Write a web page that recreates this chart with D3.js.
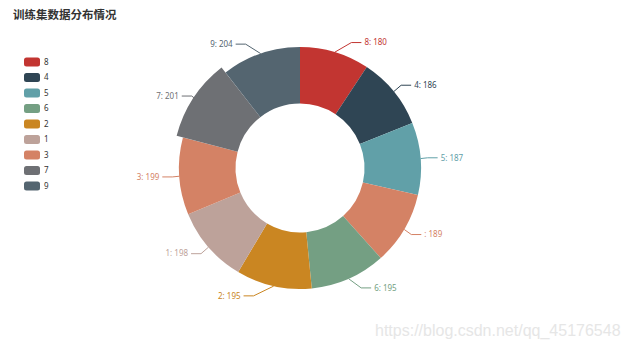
<!DOCTYPE html>
<html lang="zh">
<head>
    <meta charset="UTF-8">
    <title>训练集数据分布情况</title>
    <script src="https://d3js.org/d3.v7.min.js"></script>
    <style>
        body { margin: 0; background: #fff; }
        svg { display: block; font-family: "Noto Sans", "Noto Sans CJK SC", sans-serif; }
    </style>
</head>
<body>
    <div id="chart"></div>
    <script>
        // data, in pie order (clockwise from 12 o'clock)
        const names = ['8', '4', '5', '', '6', '2', '1', '3', '7', '9'];
        const values = [180, 186, 187, 189, 195, 195, 198, 199, 201, 204];
        const colors = ['#c23531', '#2f4554', '#61a0a8', '#d48265', '#749f83',
                        '#ca8622', '#bda29a', '#d48265', '#6e7074', '#546570'];
        // legend skips the unnamed item
        const legendNames = ['8', '4', '5', '6', '2', '1', '3', '7', '9'];
        const highlighted = '7';

        const width = 627, height = 348;
        const cx = 300, cy = 168;
        const rInner = 64.5, rOuter = 121, hoverOffset = 6.5;
        const len = 10, len2 = 10;

        const svg = d3.select('#chart').append('svg')
            .attr('width', width)
            .attr('height', height);

        // title
        svg.append('text')
            .attr('x', 13)
            .attr('y', 19)
            .attr('font-family', '"Noto Sans CJK SC", sans-serif')
            .attr('font-size', 11.5)
            .attr('font-weight', 'bold')
            .attr('fill', '#333')
            .text('训练集数据分布情况');

        const data = names.map((n, i) => ({ name: n, value: values[i], color: colors[i] }));

        const pie = d3.pie().sort(null).value(d => d.value);
        const arcs = pie(data);

        const g = svg.append('g').attr('transform', `translate(${cx},${cy})`);

        // label lines + labels (ECharts-like outer layout)
        const R = rOuter;
        arcs.forEach(a => {
            const mid = (a.startAngle + a.endAngle) / 2;
            const s = Math.sin(mid), c = Math.cos(mid);
            const dir = s < 0 ? -1 : 1;
            const ly = -(R + len) * c;
            const dx = Math.sqrt(Math.pow(R + len + len2, 2) - ly * ly);
            const tx = dx * dir;
            const lineEnd = tx - 3 * dir;
            const elbow = lineEnd - len2 * dir;
            a.label = { x: tx, y: ly, dir: dir };
            a.line = [[R * s, -R * c], [elbow, ly], [lineEnd, ly]];
        });

        g.selectAll('path.line')
            .data(arcs)
            .enter().append('path')
            .attr('class', 'line')
            .attr('d', d => d3.line()(d.line))
            .attr('fill', 'none')
            .attr('stroke', d => d.data.color)
            .attr('stroke-width', 1);

        const arc = d3.arc().innerRadius(rInner);
        g.selectAll('path.slice')
            .data(arcs)
            .enter().append('path')
            .attr('class', 'slice')
            .attr('d', d => arc.outerRadius(d.data.name === highlighted ? rOuter + hoverOffset : rOuter)(d))
            .attr('fill', d => d.data.color);

        g.selectAll('text.label')
            .data(arcs)
            .enter().append('text')
            .attr('class', 'label')
            .attr('x', d => d.label.x)
            .attr('y', d => d.label.y)
            .attr('dy', '0.35em')
            .attr('text-anchor', d => d.label.dir > 0 ? 'start' : 'end')
            .attr('font-size', 8)
            .attr('fill', d => d.data.color)
            .text(d => d.data.name + ': ' + d.data.value);

        // legend
        const colorOf = n => colors[names.indexOf(n)];
        const ly = d3.scalePoint().domain(legendNames).range([62, 186]);
        const leg = svg.append('g').selectAll('g')
            .data(legendNames)
            .enter().append('g')
            .attr('transform', d => `translate(24,${ly(d)})`);
        leg.append('rect')
            .attr('x', 0).attr('y', -4.5)
            .attr('width', 16).attr('height', 9)
            .attr('rx', 2.5)
            .attr('fill', d => colorOf(d));
        leg.append('text')
            .attr('x', 20)
            .attr('dy', '0.35em')
            .attr('font-size', 8)
            .attr('fill', '#333')
            .text(d => d);

        // watermark
        svg.append('text')
            .attr('x', 375)
            .attr('y', 336)
            .attr('font-family', '"Liberation Sans", Arial, sans-serif')
            .attr('font-size', 16)
            .attr('fill', '#e6e6e6')
            .text('https://blog.csdn.net/qq_45176548');
    </script>
</body>
</html>
